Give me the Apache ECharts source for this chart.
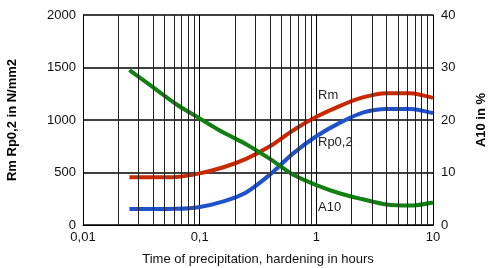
<!DOCTYPE html>
<html>
<head>
<meta charset="utf-8">
<script src="https://cdn.jsdelivr.net/npm/echarts@6/dist/echarts.min.js"></script>
<style>
  html, body { margin: 0; padding: 0; background: #fff; }
  #echart { width: 488px; height: 268px; }
</style>
</head>
<body>
<div id="echart"></div>
<script>
// time in hours (log axis), read at 5 points per decade
var hours = [0.025, 0.04, 0.063, 0.1, 0.16, 0.25, 0.4, 0.63, 1, 1.6, 2.5, 4, 6.3, 10];
var rmValues = [455, 455, 458, 492, 550, 630, 750, 900, 1030, 1135, 1215, 1255, 1255, 1210];
var rpValues = [152, 152, 154, 172, 225, 310, 480, 680, 845, 975, 1070, 1105, 1105, 1065];
var a10Values = [29.5, 26.2, 23, 20.3, 17.6, 15.4, 12.6, 9.6, 7.6, 6.0, 4.9, 3.9, 3.7, 4.3];

var xTicks = ['0,01', '0,1', '1', '10'];
var minorLines = [0.02, 0.03, 0.04, 0.05, 0.06, 0.07, 0.08, 0.09,
  0.2, 0.3, 0.4, 0.5, 0.6, 0.7, 0.8, 0.9,
  2, 3, 4, 5, 6, 7, 8, 9];

function pairs(xs, ys) {
  return xs.map(function (x, i) { return [x, ys[i]]; });
}

var font = 'Liberation Sans';
var myChart = echarts.init(document.getElementById('echart'));
var option = {
  animation: false,
  backgroundColor: '#fff',
  textStyle: { fontFamily: font },
  grid: { left: 83, right: 55, top: 15, bottom: 43, outerBoundsMode: 'none', containLabel: false },
  xAxis: {
    type: 'log',
    logBase: 10,
    min: 0.01,
    max: 10,
    name: 'Time of precipitation, hardening in hours',
    nameLocation: 'middle',
    nameGap: 28,
    nameTextStyle: { color: '#111', fontSize: 13, fontFamily: font },
    axisLine: { lineStyle: { color: '#000', width: 1 } },
    axisTick: { show: false },
    axisLabel: {
      color: '#111', fontSize: 13, margin: 6,
      formatter: function (v) {
        var i = Math.round(Math.log10(v)) + 2;
        return xTicks[i];
      }
    },
    splitLine: { show: true, lineStyle: { color: '#000', width: 1 } }
  },
  yAxis: [
    {
      type: 'value', min: 0, max: 2000, interval: 500,
      name: 'Rm Rp0,2 in N/mm2',
      nameLocation: 'middle',
      nameGap: 64,
      nameTextStyle: { color: '#000', fontSize: 13, fontWeight: 'bold', fontFamily: font },
      axisLine: { show: true, lineStyle: { color: '#000', width: 1 } },
      axisTick: { show: false },
      axisLabel: { color: '#111', fontSize: 13, margin: 7, formatter: function (v) { return String(v); } },
      splitLine: { show: true, lineStyle: { color: '#000', width: 1.5 } }
    },
    {
      type: 'value', min: 0, max: 40, interval: 10,
      name: 'A10 in %',
      nameLocation: 'middle',
      nameGap: 42,
      nameRotate: 90,
      nameTextStyle: { color: '#000', fontSize: 13, fontWeight: 'bold', fontFamily: font },
      axisLine: { show: true, lineStyle: { color: '#000', width: 1 } },
      axisTick: { show: false },
      axisLabel: { color: '#111', fontSize: 13, margin: 8 },
      splitLine: { show: false }
    }
  ],
  series: [
    {
      type: 'line',
      data: [],
      z: 1,
      silent: true,
      markLine: {
        silent: true,
        symbol: 'none',
        label: { show: false },
        lineStyle: { color: '#222', width: 1, type: 'solid' },
        data: minorLines.map(function (v) { return { xAxis: v }; })
      }
    },
    {
      name: 'Rm', type: 'line', yAxisIndex: 0, z: 3,
      data: pairs(hours, rmValues),
      smooth: 0.3, showSymbol: false,
      lineStyle: { color: '#c82a00', width: 4 }
    },
    {
      name: 'Rp0,2', type: 'line', yAxisIndex: 0, z: 3,
      data: pairs(hours, rpValues),
      smooth: 0.3, showSymbol: false,
      lineStyle: { color: '#1f52c8', width: 4 }
    },
    {
      name: 'A10', type: 'line', yAxisIndex: 1, z: 3,
      data: pairs(hours, a10Values),
      smooth: 0.3, showSymbol: false,
      lineStyle: { color: '#108010', width: 4 }
    }
  ],
  graphic: [
    { type: 'text', left: 318, top: 89, style: { text: 'Rm', fill: '#222', font: '13px "Liberation Sans"' } },
    { type: 'text', left: 318, top: 136, style: { text: 'Rp0,2', fill: '#222', font: '13px "Liberation Sans"' } },
    { type: 'text', left: 318, top: 201, style: { text: 'A10', fill: '#222', font: '13px "Liberation Sans"' } }
  ]
};
myChart.setOption(option);
</script>
</body>
</html>
